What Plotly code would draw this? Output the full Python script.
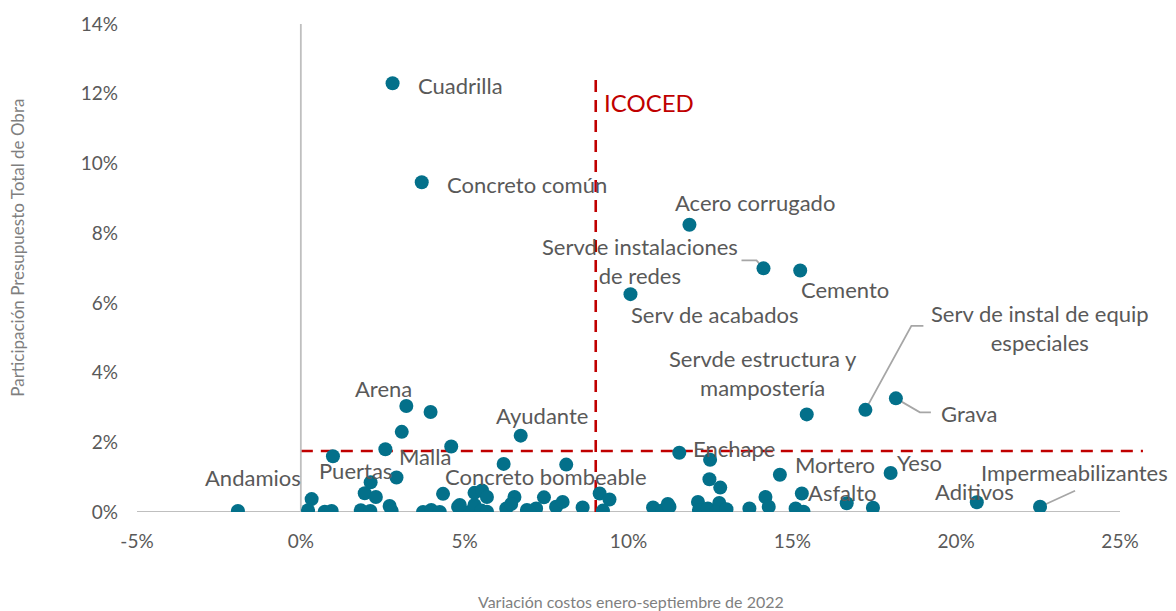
import plotly.graph_objects as go

# ---------------- data (values in %) ----------------
names = [
    "Cuadrilla", "Concreto común", "Acero corrugado", "Servde instalaciones<br>de redes",
    "Cemento", "Serv de acabados", "Servde estructura y<br>mampostería",
    "Serv de instal de equip<br>especiales", "Grava", "Arena", "Ayudante", "Puertas",
    "Malla", "Concreto bombeable", "Enchape", "Mortero", "Yeso", "Asfalto", "Aditivos",
    "Impermeabilizantes", "Andamios",
]
names_x = [2.80, 3.69, 11.86, 14.12, 15.24, 10.06, 15.44, 17.23, 18.16, 3.22, 6.71, 0.98,
           2.92, 6.19, 11.55, 14.62, 18.00, 15.29, 20.63, 22.56, -1.92]
names_y = [12.30, 9.46, 8.24, 6.99, 6.93, 6.25, 2.80, 2.93, 3.26, 3.04, 2.19, 1.60,
           0.99, 1.38, 1.70, 1.07, 1.12, 0.53, 0.28, 0.15, 0.03]

other_x = [3.96, 3.08, 2.58, 4.59, 0.33, 0.22, 0.73, 0.94, 1.83, 2.12, 1.95, 2.13, 2.29,
           2.71, 2.77, 3.73, 3.98, 4.24, 4.34, 4.80, 4.88, 5.15, 5.30, 4.85, 5.53, 5.68,
           5.30, 5.51, 5.68, 6.52, 6.27, 6.42, 6.90, 7.18, 6.98, 7.42, 7.79, 7.99, 8.10,
           8.60, 9.12, 9.42, 9.22, 10.75, 11.03, 11.20, 11.25, 12.49, 12.47, 12.80, 12.12,
           12.15, 12.42, 12.77, 12.67, 12.99, 13.69, 14.18, 14.28, 15.10, 15.34, 16.66, 17.46]
other_y = [2.87, 2.30, 1.80, 1.88, 0.37, 0.05, 0.01, 0.03, 0.05, 0.03, 0.54, 0.85, 0.43,
           0.17, 0.03, 0.00, 0.06, 0.00, 0.52, 0.15, 0.01, 0.00, 0.55, 0.20, 0.62, 0.43,
           0.20, 0.04, 0.01, 0.43, 0.10, 0.23, 0.06, 0.10, 0.01, 0.42, 0.15, 0.29, 1.36,
           0.13, 0.53, 0.36, 0.04, 0.13, 0.04, 0.23, 0.15, 1.50, 0.94, 0.70, 0.29,
           0.06, 0.10, 0.26, 0.00, 0.08, 0.10, 0.43, 0.15, 0.10, 0.01, 0.25, 0.12]

icoced_x = 9.0        # vertical reference (%)
threshold_y = 1.75    # horizontal reference (%)
icoced_label = "ICOCED"

x_ticks = [-5, 0, 5, 10, 15, 20, 25]
y_ticks = [0, 2, 4, 6, 8, 10, 12, 14]
x_title = "Variación costos enero-septiembre de 2022"
y_title = "Participación Presupuesto Total de Obra"

# ---------------- styling ----------------
FONT = "Lato"
TEAL = "#03708A"
GRAY_TXT = "#595959"
AXIS_GRAY = "#BFBFBF"
RED = "#C00000"

# label placement: (xanchor, xshift px, yshift px)
label_pos = {
    "Cuadrilla": ("left", 23, -2),
    "Concreto común": ("left", 23, -2),
    "Acero corrugado": ("center", 66, 22),
    "Servde instalaciones<br>de redes": ("center", -124, 7),
    "Cemento": ("center", 45, -19),
    "Serv de acabados": ("center", 84, -20),
    "Servde estructura y<br>mampostería": ("center", -44, 41),
    "Serv de instal de equip<br>especiales": ("center", 175, 82),
    "Grava": ("left", 43, -15),
    "Arena": ("center", -23, 18),
    "Ayudante": ("center", 21, 20),
    "Puertas": ("center", 23, -14),
    "Malla": ("center", 28, 21),
    "Concreto bombeable": ("center", 42, -13),
    "Enchape": ("center", 55, 4),
    "Mortero": ("center", 55, 10),
    "Yeso": ("center", 29, 10),
    "Asfalto": ("center", 41, 1),
    "Aditivos": ("center", -2, 11),
    "Impermeabilizantes": ("center", 34, 34),
    "Andamios": ("center", 15, 33),
}
# leader lines (pixel paths relative to the point, y up)
leaders = {
    "Servde instalaciones<br>de redes": "M 0 0 L -7 8 L -22 8",
    "Serv de instal de equip<br>especiales": "M 0 0 L 46 84 L 58 84",
    "Grava": "M 0 0 L 24 -14 L 35 -14",
    "Impermeabilizantes": "M 0 0 L 35 16",
}

fig = go.Figure()

all_x = [v / 100 for v in names_x + other_x]
all_y = [v / 100 for v in names_y + other_y]

XMIN, XMAX = x_ticks[0] / 100, x_ticks[-1] / 100
YMIN, YMAX = y_ticks[0] / 100, y_ticks[-1] / 100

shapes = [
    dict(type="line", xref="x", yref="y", x0=XMIN, x1=XMAX, y0=0, y1=0,
         line=dict(color=AXIS_GRAY, width=1.8), layer="below"),
    dict(type="line", xref="x", yref="y", x0=0, x1=0, y0=YMIN, y1=YMAX,
         line=dict(color=AXIS_GRAY, width=1.8), layer="below"),
]
x_span = XMAX - XMIN
shapes.append(dict(type="line", xref="paper", yref="y",
                   x0=(0 - XMIN) / x_span, x1=(0.257 - XMIN) / x_span,
                   y0=threshold_y / 100, y1=threshold_y / 100,
                   line=dict(color=RED, width=2.6, dash="12px,8px"), layer="below"))
shapes.append(dict(type="line", xref="x", yref="y",
                   x0=icoced_x / 100, x1=icoced_x / 100, y0=0, y1=0.125,
                   line=dict(color=RED, width=2.6, dash="12px,8px"), layer="below"))

for n, px, py in zip(names, names_x, names_y):
    if n in leaders:
        shapes.append(dict(type="path", xref="x", yref="y",
                           xsizemode="pixel", ysizemode="pixel",
                           xanchor=px / 100, yanchor=py / 100,
                           path=leaders[n],
                           line=dict(color="#A6A6A6", width=1.8), layer="below"))

fig.add_trace(go.Scatter(
    x=all_x, y=all_y, mode="markers",
    marker=dict(size=14, color=TEAL, line=dict(width=0)),
    hoverinfo="skip", showlegend=False,
))

annotations = []
for n, px, py in zip(names, names_x, names_y):
    anchor, xs, ys = label_pos[n]
    annotations.append(dict(
        x=px / 100, y=py / 100, xref="x", yref="y", text=n, showarrow=False,
        xanchor=anchor, yanchor="middle", xshift=xs, yshift=ys, align="center",
        font=dict(family=FONT, size=22, color=GRAY_TXT),
    ))

annotations.append(dict(
    x=icoced_x / 100, y=0.1175, xref="x", yref="y", text=icoced_label, showarrow=False,
    xanchor="left", yanchor="middle", xshift=6,
    font=dict(family=FONT, size=24, color=RED),
))
annotations.append(dict(
    x=0.5025, y=-0.1826, xref="paper", yref="paper", text=x_title, showarrow=False,
    xanchor="center", yanchor="middle",
    font=dict(family=FONT, size=16, color="#7F7F7F"),
))
annotations.append(dict(
    x=-0.121, y=0.5416, xref="paper", yref="paper", text=y_title, showarrow=False,
    xanchor="center", yanchor="middle", textangle=-90,
    font=dict(family=FONT, size=17, color="#7F7F7F"),
))

fig.update_layout(
    width=1176, height=611,
    margin=dict(l=137, r=56, t=19, b=99),
    plot_bgcolor="white", paper_bgcolor="white",
    shapes=shapes, annotations=annotations,
    font=dict(family=FONT, color=GRAY_TXT),
    xaxis=dict(range=[XMIN, XMAX], tickvals=[v / 100 for v in x_ticks],
               ticktext=[f"{v}%" for v in x_ticks], showgrid=False, zeroline=False,
               showline=False, ticks="", ticklabelstandoff=16,
               tickfont=dict(family=FONT, size=19, color=GRAY_TXT)),
    yaxis=dict(range=[YMIN, YMAX], tickvals=[v / 100 for v in y_ticks],
               ticktext=[f"{v}%" for v in y_ticks], showgrid=False, zeroline=False,
               showline=False, ticks="", ticklabelstandoff=18,
               tickfont=dict(family=FONT, size=19, color=GRAY_TXT)),
)

fig.write_html(
    "out.html",
    config={"displayModeBar": False},
    post_script="document.body.style.margin='0';document.body.style.overflow='hidden';",
)
